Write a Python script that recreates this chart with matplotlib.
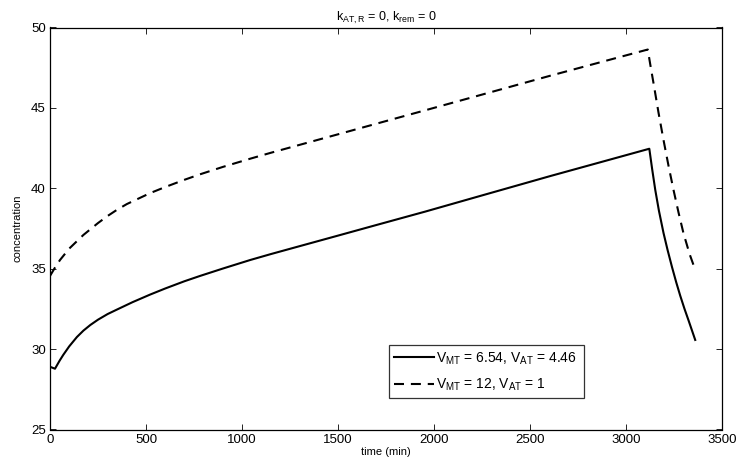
import matplotlib
matplotlib.use("Agg")
import matplotlib.pyplot as plt

plt.rcParams['font.family'] = ['Liberation Sans', 'DejaVu Sans']
plt.rcParams['mathtext.fontset'] = 'custom'
plt.rcParams['mathtext.rm'] = 'Liberation Sans'
plt.rcParams['mathtext.it'] = 'Liberation Sans'

# Series 1: V_MT = 6.54, V_AT = 4.46 (solid)
t_solid = [0, 26, 50, 69, 100, 140, 174, 210, 250, 300, 347, 430, 521, 600, 700, 781,
           900, 1042, 1150, 1302, 1500, 1700, 1953, 2250, 2604, 2850, 3120,
           3135, 3151, 3170, 3194, 3215, 3238, 3260, 3281, 3303, 3325, 3359]
c_solid = [28.9, 28.78, 29.28, 29.64, 30.17, 30.75, 31.15, 31.5, 31.83, 32.18, 32.45,
           32.92, 33.39, 33.77, 34.22, 34.55, 35.01, 35.54, 35.91, 36.41, 37.06, 37.72,
           38.55, 39.56, 40.76, 41.57, 42.46,
           41.18, 39.9, 38.61, 37.22, 36.17, 35.11, 34.16, 33.32, 32.51, 31.76, 30.57]

# Series 2: V_MT = 12, V_AT = 1 (dashed)
t_dash = [0, 25, 52, 100, 174, 250, 300, 347, 400, 521, 600, 700, 781, 900, 1042,
          1150, 1302, 1500, 1700, 1953, 2250, 2604, 2850, 3112,
          3125, 3142, 3168, 3194, 3220, 3246, 3272, 3298, 3330, 3360]
c_dash = [34.55, 35.05, 35.54, 36.25, 37.1, 37.84, 38.28, 38.65, 39.02, 39.7, 40.08,
          40.53, 40.87, 41.33, 41.84, 42.21, 42.71, 43.36, 44.02, 44.85, 45.83, 47.0,
          47.79, 48.63,
          47.7, 46.53, 44.7, 43.0, 41.4, 39.9, 38.5, 37.2, 35.9, 34.9]

labels = [r'V$_{\rm MT}$ = 6.54, V$_{\rm AT}$ = 4.46', r'V$_{\rm MT}$ = 12, V$_{\rm AT}$ = 1']
xticks = [0, 500, 1000, 1500, 2000, 2500, 3000, 3500]
yticks = [25, 30, 35, 40, 45, 50]

fig = plt.figure(figsize=(7.39, 4.70), dpi=100)
ax = fig.add_axes([50/739, 1-429.5/470, (722.3-50)/739, (429.5-27.5)/470])

ax.plot(t_solid, c_solid, color='black', lw=1.5, label=labels[0])
ax.plot(t_dash, c_dash, color='black', lw=1.5, ls=(0, (4.8, 3.3)), label=labels[1])

ax.set_xlim(0, 3500)
ax.set_ylim(25, 50)
ax.set_xticks(xticks)
ax.set_yticks(yticks)
ax.tick_params(direction='in', length=4.5, width=0.6, top=True, right=True,
               labelsize=9.5, pad=3)
for s in ax.spines.values():
    s.set_linewidth(0.9)

ax.set_xlabel('time (min)', fontsize=8, labelpad=1)
ax.set_ylabel('concentration', fontsize=8, labelpad=6)
ax.set_title(r'k$_{\rm AT,R}$ = 0, k$_{\rm rem}$ = 0', fontsize=9, pad=5)

leg = ax.legend(loc='lower left', bbox_to_anchor=((389-50)/672.3, (429.5-398.3)/402,
                                                  (584-389)/672.3, (398.3-344)/402),
                mode='expand', fontsize=10, frameon=True, fancybox=False,
                handlelength=2.9, handletextpad=0.15, borderpad=0.35,
                labelspacing=0.75, borderaxespad=0)
leg.get_frame().set_edgecolor('black')
leg.get_frame().set_linewidth(0.9)

fig.savefig('out.png', dpi=100)
